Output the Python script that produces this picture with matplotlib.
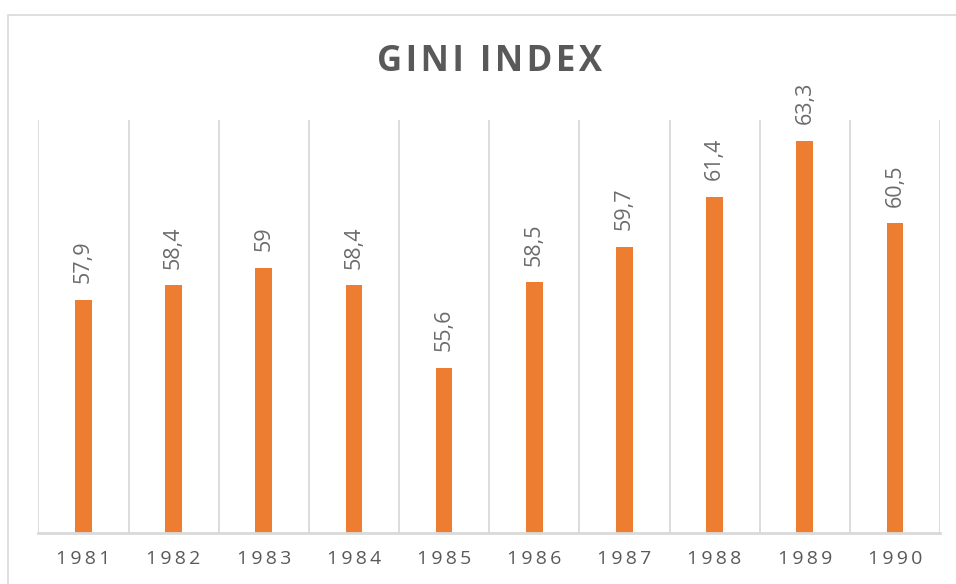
import matplotlib
matplotlib.use("Agg")
import matplotlib.pyplot as plt
from matplotlib.patches import Rectangle

# datos del gráfico
years = ["1981", "1982", "1983", "1984", "1985", "1986", "1987", "1988", "1989", "1990"]
gini = [57.9, 58.4, 59.0, 58.4, 55.6, 58.5, 59.7, 61.4, 63.3, 60.5]
value_labels = ["57,9", "58,4", "59", "58,4", "55,6", "58,5", "59,7", "61,4", "63,3", "60,5"]

gray_text = "#595959"
grid_gray = "#D9D9D9"
bar_orange = "#ED7D31"
fonts = ["Open Sans", "DejaVu Sans"]
thin = "\u2009"
hair = "\u200a"

fig = plt.figure(figsize=(9.56, 5.84), dpi=100)
ax = fig.add_axes([0.0401, 0.0873, 0.9432, 0.7072])

x = list(range(len(years)))
bars = ax.bar(x, gini, width=0.185, color=bar_orange, zorder=3)

# etiquetas de datos giradas
ax.bar_label(bars, labels=value_labels, padding=12, rotation=90,
             color="#6b6b6b", fontsize=15.5, family=fonts)

# lineas verticales entre categorias
ax.vlines([i - 0.5 for i in range(len(years) + 1)], 50, 64,
          colors=grid_gray, linewidth=1.3, zorder=1)

ax.set_xlim(-0.5, len(years) - 0.5)
ax.set_ylim(50, 64)
ax.set_yticks([])
ax.set_xticks(x)
ax.set_xticklabels([thin.join(y) for y in years], color=gray_text,
                   fontsize=14, family=fonts)
ax.tick_params(axis="x", length=0, pad=12)

for side in ["top", "left", "right"]:
    ax.spines[side].set_visible(False)
ax.spines["bottom"].set_color(grid_gray)
ax.spines["bottom"].set_linewidth(2)
ax.spines["bottom"].set_zorder(4)

fig.text(0.5117, 0.894, hair.join("GINI INDEX"), ha="center", va="center",
         fontsize=25, fontweight="bold", color=gray_text, family=fonts)

# borde del area del grafico
fig.patches.append(Rectangle((0.0084, -0.1), 1.2, 0.9743 + 0.1,
                             transform=fig.transFigure, fill=False,
                             edgecolor=grid_gray, linewidth=1.2))

fig.savefig("out.png", dpi=100)
